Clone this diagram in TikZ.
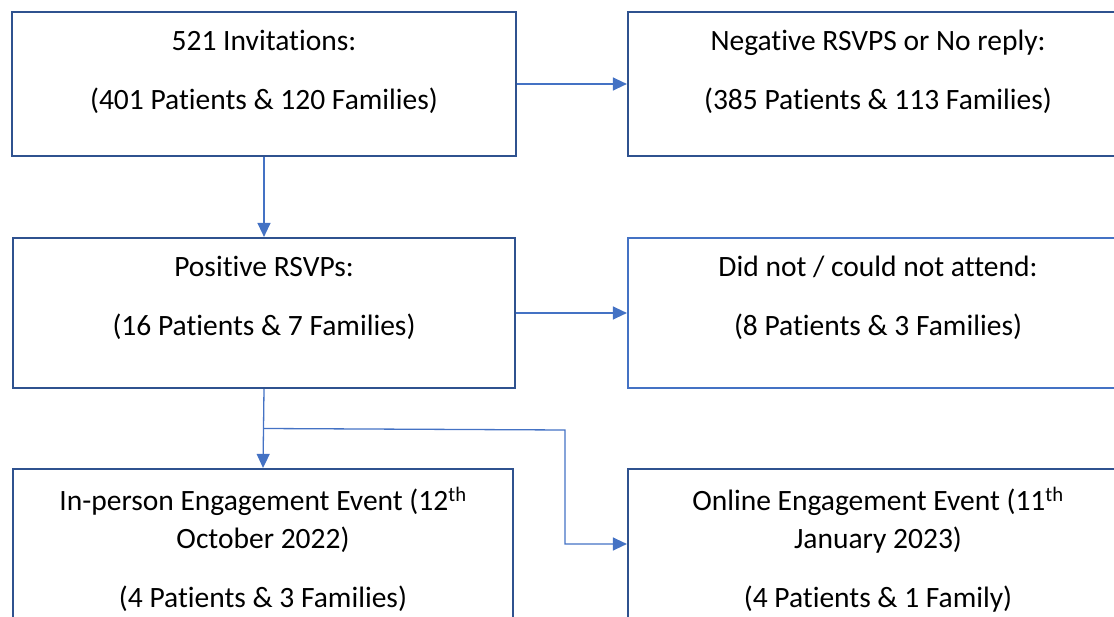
\documentclass[tikz,border=0pt]{standalone}
\usepackage{fontspec}
\setmainfont{Carlito}[Ligatures={NoCommon}]
\usetikzlibrary{positioning,calc,arrows.meta}
\definecolor{boxblue}{HTML}{2F528F}
\definecolor{lineblue}{HTML}{4472C4}
\newcommand{\capstrut}{\rule{0pt}{22pt}}
\begin{document}
\begin{tikzpicture}[x=1pt, y=-1pt,
                    box/.style   = {draw=boxblue, line width=2.2pt, minimum width=500pt, minimum height=150pt, inner sep=0pt},
                    txt/.style   = {align=center, inner sep=0pt, font=\fontsize{29.5}{38}\selectfont},
                    arrow/.style = {lineblue, line width=1.3pt, -{Triangle[length=14pt,width=13pt]}}]
                    \useasboundingbox (0,0) rectangle (1114,617);
                    \clip (0,0) rectangle (1114,617);

                    \node[box, minimum width=504pt, minimum height=144pt] (inv) at (264,84)  {};
                    \node[box, minimum height=144pt]                      (neg) at (878,84)  {};
                    \node[box, minimum width=502pt]                       (pos) at (264,313) {};
                    \node[box, draw=lineblue]                             (dna) at (878,313) {};
                    \node[box]                                            (inp) at (263,544) {};
                    \node[box]                                            (onl) at (878,544) {};

                    \node[txt, below=17pt of inv.north] (invtxt) {\capstrut 521 Invitations:\\[21pt](401 Patients \& 120 Families)};
                    \node[txt, below=17pt of neg.north] (negtxt) {\capstrut Negative RSVPS or No reply:\\[21pt](385 Patients \& 113 Families)};
                    \node[txt, below=17pt of pos.north] (postxt) {\capstrut Positive RSVPs:\\[21pt](16 Patients \& 7 Families)};
                    \node[txt, below=17pt of dna.north] (dnatxt) {\capstrut Did not / could not attend:\\[21pt](8 Patients \& 3 Families)};
                    \node[txt, below=19pt of inp.north] (inptxt) {\capstrut In-person Engagement Event (12\textsuperscript{th}\\October 2022)\\[21pt](4 Patients \& 3 Families)};
                    \node[txt, below=19pt of onl.north] (onltxt) {\capstrut Online Engagement Event (11\textsuperscript{th}\\January 2023)\\[21pt](4 Patients \& 1 Family)};

                    \coordinate (split) at ($(pos.south)!0.5!(inp.north)$);
                    \coordinate (bend)  at (565,430);

                    \draw[arrow] (inv.east)  -- (neg.west);
                    \draw[arrow] (inv.south) -- (pos.north);
                    \draw[arrow] (pos.east)  -- (dna.west);
                    \draw[arrow] (pos.south) -- (inp.north);
                    \draw[arrow] (split) -- (bend) |- (onl.west);

                \end{tikzpicture}
\end{document}
